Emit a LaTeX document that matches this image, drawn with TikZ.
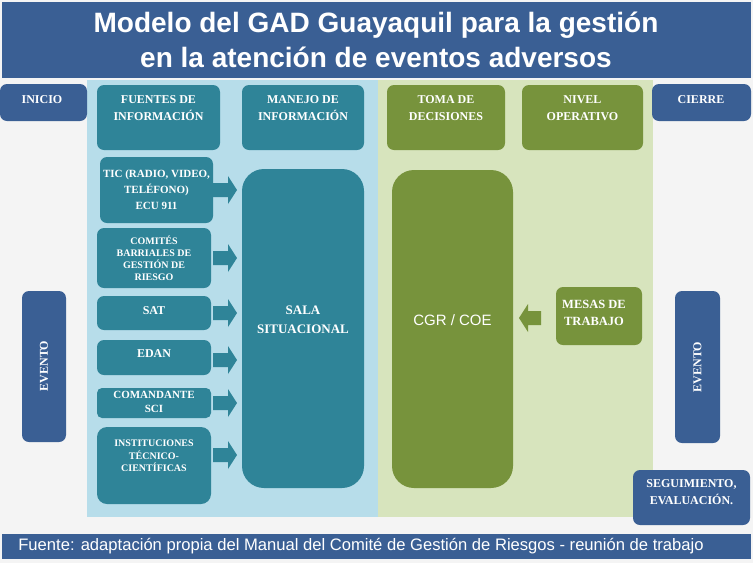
\documentclass[tikz,border=0pt]{standalone}
\usepackage{fontspec}
\setmainfont{Liberation Serif}
\newfontfamily\sansf{Liberation Sans}
\definecolor{dblue}{HTML}{3A5F94}
\definecolor{teal}{HTML}{2F8498}
\definecolor{lblue}{HTML}{B7DDEA}
\definecolor{lgreen}{HTML}{D7E4BD}
\definecolor{dgreen}{HTML}{77933C}
\definecolor{bg}{HTML}{F4F4F4}
\tikzset{
 bx/.style={rounded corners=7pt,text=white,font=\bfseries\fontsize{12}{17}\selectfont,align=center},
 tbox/.style={bx,fill=teal},
 gbox/.style={bx,fill=dgreen},
 bbox/.style={bx,fill=dblue}
}
\begin{document}
\begin{tikzpicture}[x=1pt,y=-1pt]
\fill[bg] (0,0) rectangle (753,563);
\useasboundingbox (0,0) rectangle (753,563);
\fill[dblue] (2,2) rectangle (751,78);
\node[text=white,font=\sansf\bfseries\fontsize{28}{35}\selectfont,align=center] (title) at (376,40) {Modelo del GAD Guayaquil para la gestión\\en la atención de eventos adversos};
\fill[lblue] (87,80) rectangle (378,517);
\fill[lgreen] (378,80) rectangle (653,517);
\fill[dblue] (2,534) rectangle (751,559);
\node[text=white,font=\sansf\fontsize{16.6}{19}\selectfont] (foot) at (361,546.5) {Fuente: adaptación propia del Manual del Comité de Gestión de Riesgos - reunión de trabajo};
% headers
\path[bbox] (0,84) rectangle (87,121); \node[text=white,font=\bfseries\fontsize{12}{14}\selectfont] (inicio) at (42,100) {INICIO};
\path[bbox] (652,84) rectangle (751,121); \node[text=white,font=\bfseries\fontsize{12}{14}\selectfont] (cierre) at (701,100) {CIERRE};
\path[tbox] (97,85) rectangle (220,150); \node[bx] (fu) at (158.5,108) {FUENTES DE\\INFORMACIÓN};
\path[tbox] (242,85) rectangle (364,150); \node[bx] (ma) at (303,108) {MANEJO DE\\INFORMACIÓN};
\path[gbox] (387,85) rectangle (505,150); \node[bx] (to) at (446,108) {TOMA DE\\DECISIONES};
\path[gbox] (522,85) rectangle (643,150); \node[bx] (ni) at (582.5,108) {NIVEL\\OPERATIVO};
% sources
\path[tbox] (100,157) rectangle (213,223); \node[bx,font=\bfseries\fontsize{11}{16}\selectfont] (tic) at (156.5,190) {TIC (RADIO, VIDEO,\\TELÉFONO)\\ECU 911};
\path[tbox] (97,228) rectangle (211,288); \node[bx,font=\bfseries\fontsize{10}{12}\selectfont] (com) at (154,258) {COMITÉS\\BARRIALES DE\\GESTIÓN DE\\RIESGO};
\path[tbox] (97,296) rectangle (211,330); \node[bx] (sat) at (154,311) {SAT};
\path[tbox] (97,340) rectangle (211,375); \node[bx] (edan) at (154,354) {EDAN};
\path[tbox,rounded corners=5pt] (97,388) rectangle (211,418); \node[bx,font=\bfseries\fontsize{11}{14}\selectfont] (cmd) at (154,402) {COMANDANTE\\SCI};
\path[tbox,rounded corners=10pt] (97,427) rectangle (211,504); \node[bx,font=\bfseries\fontsize{10}{12.5}\selectfont] (inst) at (154,456) {INSTITUCIONES\\TÉCNICO-\\CIENTÍFICAS};
% big boxes
\path[tbox,rounded corners=22pt] (242,169) rectangle (364,488); \node[bx,font=\bfseries\fontsize{13}{19}\selectfont] (sala) at (303,320) {SALA\\SITUACIONAL};
\path[gbox,rounded corners=22pt] (392,170) rectangle (513,488); \node[text=white,font=\sansf\fontsize{15}{18}\selectfont] (cgr) at (452.5,320) {CGR / COE};
\path[gbox] (556,287) rectangle (642,345); \node[bx,font=\bfseries\fontsize{12.5}{17}\selectfont] (mesas) at (594,313) {MESAS DE\\TRABAJO};
% arrows
\foreach \y in {190,258,313,360,403,455}
  \fill[teal] (213,\y-7) -- (228,\y-7) -- (228,\y-14) -- (237,\y) -- (228,\y+14) -- (228,\y+7) -- (213,\y+7) -- cycle;
\fill[dgreen] (541,311) -- (528,311) -- (528,304) -- (519,318) -- (528,332) -- (528,325) -- (541,325) -- cycle;
% eventos
\path[bbox] (22,291) rectangle (66,442); \node[rotate=90,text=white,font=\bfseries\fontsize{12}{14}\selectfont] (ev1) at (44,366) {EVENTO};
\path[bbox] (675,291) rectangle (720,443); \node[rotate=90,text=white,font=\bfseries\fontsize{12}{14}\selectfont] (ev2) at (697.5,367) {EVENTO};
\path[bbox] (633,470) rectangle (750,525); \node[bx] (seg) at (691.5,492) {SEGUIMIENTO,\\EVALUACIÓN.};
\end{tikzpicture}
\end{document}
